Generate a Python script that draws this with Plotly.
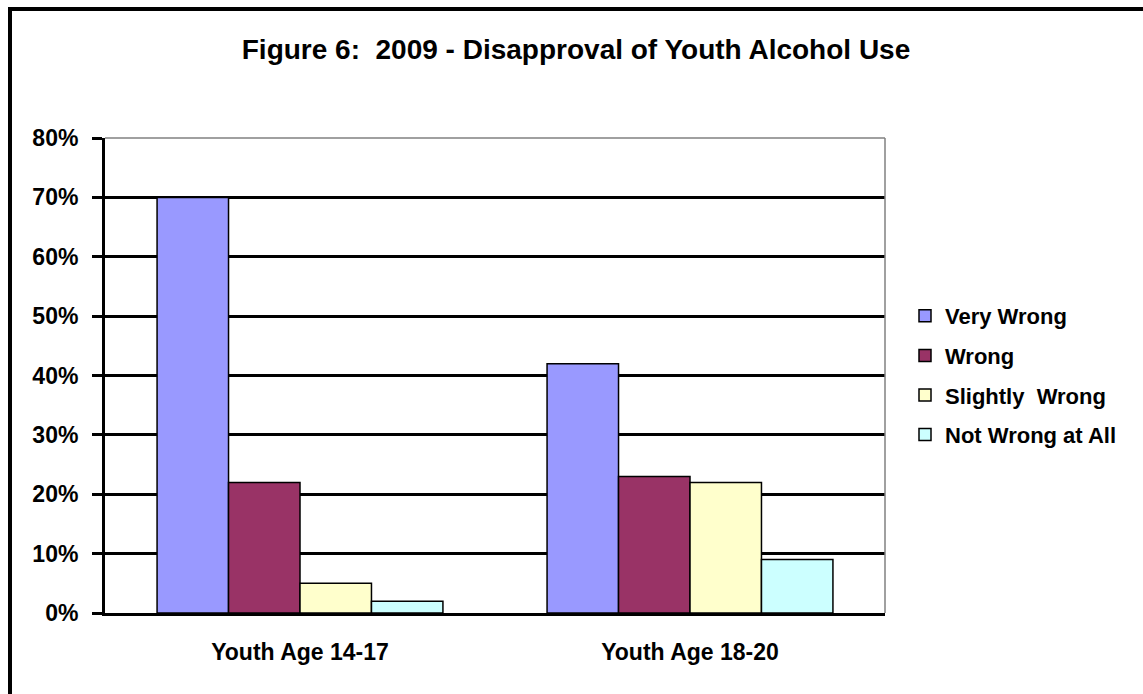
import plotly.graph_objects as go

categories = ["Youth Age 14-17", "Youth Age 18-20"]
series_names = ["Very Wrong", "Wrong", "Slightly  Wrong", "Not Wrong at All"]
very_wrong = [0.70, 0.42]
wrong = [0.22, 0.23]
slightly_wrong = [0.05, 0.22]
not_wrong = [0.02, 0.09]
colors = ["#9999FF", "#993366", "#FFFFCC", "#CCFFFF"]
y_ticks = [0, 0.1, 0.2, 0.3, 0.4, 0.5, 0.6, 0.7, 0.8]

FONT = "Liberation Sans, Arial, sans-serif"
W, H = 1143, 694
ML, MR, MT, MB = 105, 258, 138, 81
PW, PH = W - ML - MR, H - MT - MB

fig = go.Figure()
for i, (name, vals) in enumerate(zip(series_names, [very_wrong, wrong, slightly_wrong, not_wrong])):
    fig.add_trace(go.Bar(
        x=categories, y=vals, name=name, legendgroup=f"g{i}",
        marker=dict(color=colors[i], line=dict(color="black", width=1.5)),
    ))

def px_to_paper_x(px):
    return (px - ML) / PW

def px_to_paper_y(py):
    return (H - MB - py) / PH

shapes = [
    dict(type="line", xref="paper", yref="paper", x0=0, x1=1, y0=1, y1=1,
         line=dict(color="#808080", width=1.5), layer="above"),
    dict(type="line", xref="paper", yref="paper", x0=1, x1=1, y0=0, y1=1,
         line=dict(color="#808080", width=1.5), layer="above"),
    dict(type="rect", xref="paper", yref="paper",
         x0=px_to_paper_x(10), x1=px_to_paper_x(1180),
         y0=px_to_paper_y(720), y1=px_to_paper_y(9),
         line=dict(color="black", width=4), layer="above"),
]

fig.update_layout(
    width=W, height=H,
    margin=dict(l=ML, r=MR, t=MT, b=MB),
    paper_bgcolor="white", plot_bgcolor="white",
    barmode="group", bargap=0.267, bargroupgap=0,
    font=dict(family=FONT, color="black", size=20, weight="bold"),
    title=dict(text="Figure 6:  2009 - Disapproval of Youth Alcohol Use",
               x=576 / W, xanchor="center", y=1 - 49 / H, yanchor="middle",
               font=dict(size=28, family=FONT, weight="bold", color="black")),
    xaxis=dict(showline=True, linecolor="black", linewidth=3, ticks="",
               tickfont=dict(size=23, family=FONT, weight="bold"),
               ticklabelstandoff=16, showgrid=False),
    yaxis=dict(range=[0, 0.8], tickvals=y_ticks, tickformat=".0%",
               showline=True, linecolor="black", linewidth=3,
               ticks="outside", ticklen=10, tickwidth=3, tickcolor="black",
               showgrid=True, gridcolor="black", gridwidth=2.5,
               zeroline=False,
               tickfont=dict(size=23, family=FONT, weight="bold"),
               ticklabelstandoff=9),
    legend=dict(x=px_to_paper_x(905), xanchor="left", y=0.5, yanchor="middle",
                font=dict(size=22, family=FONT, weight="bold"),
                tracegroupgap=8, itemwidth=30, bgcolor="rgba(0,0,0,0)"),
    shapes=shapes,
    showlegend=True,
)

fig.write_html("out.html")
